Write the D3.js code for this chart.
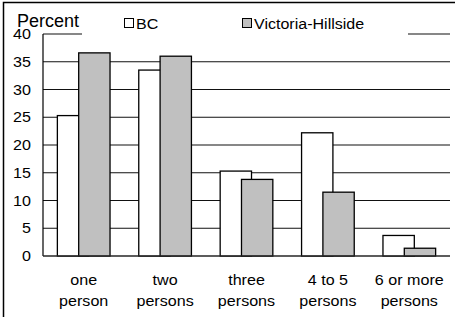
<!DOCTYPE html>
<html>
<head>
<meta charset="utf-8">
<script src="https://cdn.jsdelivr.net/npm/d3@7"></script>
<style>
  body { margin: 0; background: #fff; }
  svg { display: block; }
  text { font-family: Arial, "Liberation Sans", sans-serif; fill: #000; }
</style>
</head>
<body>
<svg id="viz"></svg>
<script>
// ----------------------------------------------------------------------------------------------------------------
// DATA

var categories = ["one person", "two persons", "three persons", "4 to 5 persons", "6 or more persons"];
var categoryLines = [["one", "person"], ["two", "persons"], ["three", "persons"], ["4 to 5", "persons"], ["6 or more", "persons"]];
var seriesNames = ["BC", "Victoria-Hillside"];
var bcValues = [25.3, 33.5, 15.3, 22.2, 3.7];
var vhValues = [36.6, 36.0, 13.8, 11.5, 1.4];
var yTicks = [0, 5, 10, 15, 20, 25, 30, 35, 40];

// ----------------------------------------------------------------------------------------------------------------
// INITIAL SETUP

var w = 455;
var h = 317;
var viz = d3.select("#viz").attr("width", w).attr("height", h);

// note: "top" is taken by window.top, so use plot* names
var plotL = 43, plotR = 450, plotT = 34, plotB = 256;
var sx = 1.15; // the original is stretched a bit sideways

var x = d3.scaleBand().domain(categories).range([plotL, plotR]).padding(0);
var y = d3.scaleLinear().domain([0, 40]).range([plotB, plotT]);
var barW = x.bandwidth() * 0.385;
var off = x.bandwidth() * 0.131;

// frame (left edge and top edge only)
viz.append("path")
  .attr("d", "M3.5," + h + "V2.5H" + w)
  .attr("fill", "none")
  .attr("stroke", "#000")
  .attr("stroke-width", 1.5);

// ----------------------------------------------------------------------------------------------------------------
// GRID + AXIS

viz.append("g")
  .selectAll("line")
  .data(yTicks)
  .enter()
  .append("line")
  .attr("x1", plotL)
  .attr("x2", plotR)
  .attr("y1", function(d) { return y(d); })
  .attr("y2", function(d) { return y(d); })
  .attr("stroke", "#111")
  .attr("stroke-width", 1.1);

viz.append("g")
  .selectAll("text")
  .data(yTicks)
  .enter()
  .append("text")
  .attr("transform", function(d) { return "translate(31," + (y(d) + 5) + ") scale(" + sx + ",1)"; })
  .attr("text-anchor", "end")
  .style("font-size", "14px")
  .text(function(d) { return d; });

// ----------------------------------------------------------------------------------------------------------------
// LEGEND

// white legend box hides part of the top gridline
viz.append("rect")
  .attr("x", 82).attr("y", 12).attr("width", 326).attr("height", 26)
  .attr("fill", "#fff");

viz.append("text")
  .attr("x", 17).attr("y", 27)
  .style("font-size", "18px")
  .text("Percent");

var legendX = [124, 242];
var legendFill = ["#fff", "#c0c0c0"];
var legend = viz.append("g")
  .selectAll("g")
  .data(seriesNames)
  .enter()
  .append("g");

legend.append("rect")
  .attr("x", function(d, i) { return legendX[i] + 0.5; })
  .attr("y", 18.5)
  .attr("width", 9).attr("height", 9)
  .attr("fill", function(d, i) { return legendFill[i]; })
  .attr("stroke", "#000")
  .attr("stroke-width", 1);

legend.append("text")
  .attr("transform", function(d, i) { return "translate(" + (legendX[i] + 12) + ",28.5) scale(1.07,1)"; })
  .style("font-size", "15px")
  .text(function(d) { return d; });

// ----------------------------------------------------------------------------------------------------------------
// BARS

viz.append("g")
  .selectAll("rect")
  .data(bcValues)
  .enter()
  .append("rect")
  .attr("x", function(d, i) { return x(categories[i]) + x.bandwidth() / 2 - off - barW / 2; })
  .attr("y", function(d) { return y(d); })
  .attr("width", barW)
  .attr("height", function(d) { return y(0) - y(d); })
  .attr("fill", "#fff")
  .attr("stroke", "#000")
  .attr("stroke-width", 1.3);

viz.append("g")
  .selectAll("rect")
  .data(vhValues)
  .enter()
  .append("rect")
  .attr("x", function(d, i) { return x(categories[i]) + x.bandwidth() / 2 + off - barW / 2; })
  .attr("y", function(d) { return y(d); })
  .attr("width", barW)
  .attr("height", function(d) { return y(0) - y(d); })
  .attr("fill", "#c0c0c0")
  .attr("stroke", "#000")
  .attr("stroke-width", 1.3);

// axis line + baseline on top
viz.append("line")
  .attr("x1", plotL).attr("x2", plotL)
  .attr("y1", y(40)).attr("y2", y(0))
  .attr("stroke", "#000").attr("stroke-width", 1.2);
viz.append("line")
  .attr("x1", plotL).attr("x2", plotR)
  .attr("y1", y(0)).attr("y2", y(0))
  .attr("stroke", "#333").attr("stroke-width", 1.2);

// category labels, two lines each
var cat = viz.append("g")
  .selectAll("g")
  .data(categoryLines)
  .enter()
  .append("g");

cat.selectAll("text")
  .data(function(d, i) { return d.map(function(s, j) { return {s: s, i: i, j: j}; }); })
  .enter()
  .append("text")
  .attr("transform", function(d) {
    return "translate(" + (x(categories[d.i]) + x.bandwidth() / 2) + "," + (285 + d.j * 21) + ") scale(" + sx + ",1)";
  })
  .attr("text-anchor", "middle")
  .style("font-size", "14px")
  .text(function(d) { return d.s; });
</script>
</body>
</html>
